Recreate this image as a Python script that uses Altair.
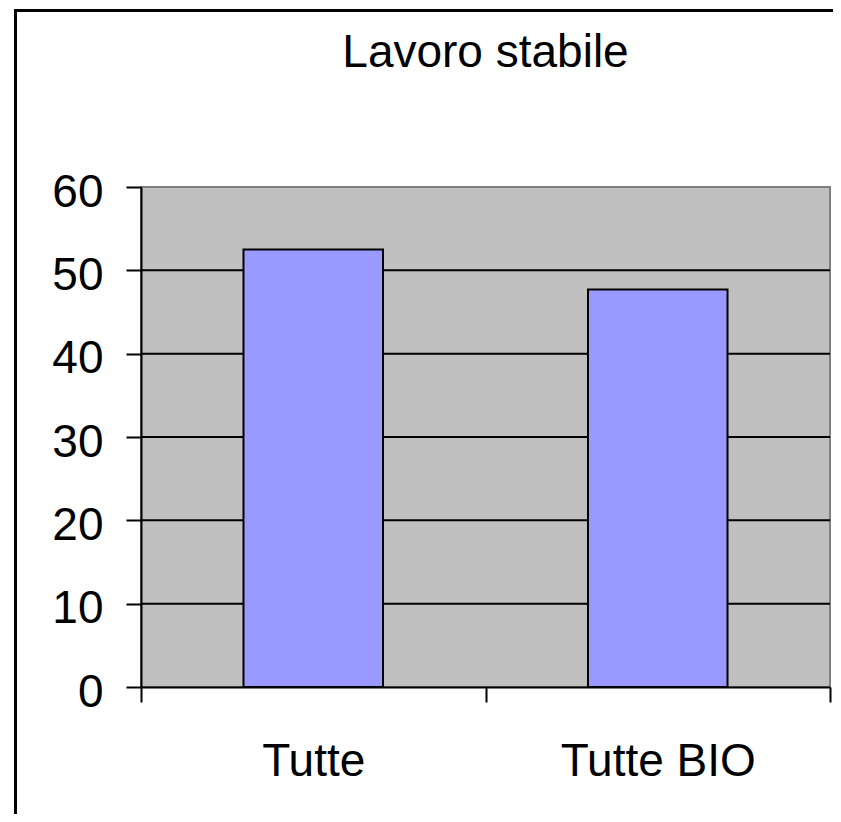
import altair as alt
import pandas as pd

# ---- data ----
categories = ["Tutte", "Tutte BIO"]
values = [52.5, 47.7]
y_ticks = [0, 10, 20, 30, 40, 50, 60]
grid_values = [10, 20, 30, 40, 50]
title_text = "Lavoro stabile"

bars_df = pd.DataFrame({"categoria": categories, "valore": values})
grid_df = pd.DataFrame({"g": grid_values})
one_df = pd.DataFrame({"k": [0]})

FONT = "Liberation Sans"
W, H = 689, 500
FS = 46

y_scale = alt.Scale(domain=[0, 60], nice=False, zero=True)

x_enc = alt.X(
    "categoria:N",
    sort=categories,
    title=None,
    scale=alt.Scale(paddingInner=0, paddingOuter=0),
    axis=alt.Axis(
        labelAngle=0,
        tickBand="extent",
        tickSize=15,
        tickWidth=2,
        tickColor="black",
        domainColor="black",
        domainWidth=2,
        labelFont=FONT,
        labelFontSize=FS,
        labelColor="black",
        labelPadding=37,
        labelLimit=0,
        grid=False,
        zindex=1,
    ),
)

y_axis = alt.Axis(
    values=y_ticks,
    tickSize=15,
    tickWidth=2,
    tickColor="black",
    domainColor="black",
    domainWidth=2,
    labelFont=FONT,
    labelFontSize=FS,
    labelColor="black",
    labelPadding=23,
    labelOffset=5,
    grid=False,
    title=None,
    zindex=1,
)

grid = alt.Chart(grid_df).mark_rule(color="black", strokeWidth=2).encode(
    y=alt.Y("g:Q", scale=y_scale, axis=y_axis)
)

bars = alt.Chart(bars_df).mark_bar(
    width=alt.RelativeBandSize(0.405),
    color="#9999FF",
    stroke="black",
    strokeWidth=2,
).encode(
    x=x_enc,
    y=alt.Y("valore:Q", scale=y_scale, axis=y_axis),
)

border_left = alt.Chart(one_df).mark_rule(color="black", strokeWidth=3).encode(
    x=alt.value(-125.5), y=alt.value(-178), y2=alt.value(720)
)
border_top = alt.Chart(one_df).mark_rule(color="black", strokeWidth=3).encode(
    x=alt.value(-127), x2=alt.value(720), y=alt.value(-176.5)
)

chart = (
    alt.layer(grid, bars, border_left, border_top)
    .properties(
        width=W,
        height=H,
        background="white",
        padding={"left": 133, "top": 179, "right": 3, "bottom": 127},
        autosize=alt.AutoSizeParams(type="none"),
        title=alt.TitleParams(
            text=title_text,
            font=FONT,
            fontSize=FS,
            fontWeight="normal",
            color="black",
            anchor="middle",
            frame="group",
            baseline="alphabetic",
            offset=-105,
        ),
    )
    .configure_view(fill="#C0C0C0", stroke="#808080", strokeWidth=2)
)

chart.save("out.html", embed_options={"renderer": "svg", "actions": False})
